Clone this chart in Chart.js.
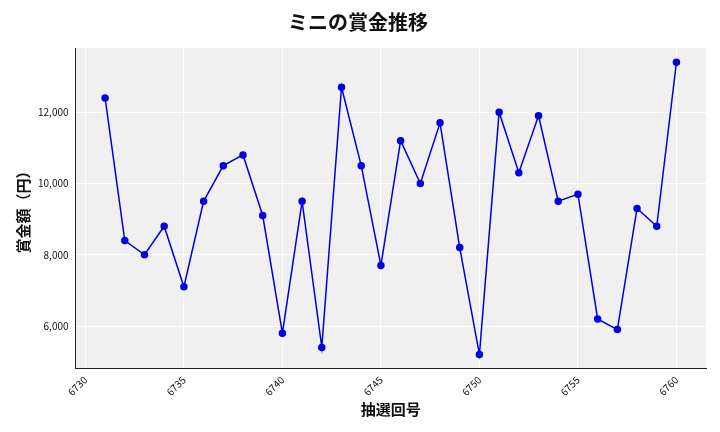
<!DOCTYPE html>
<html><head><meta charset="utf-8">
<script src="https://cdn.jsdelivr.net/npm/chart.js@4"></script>
<style>body{margin:0;background:#fff}#wrap{width:720px;height:432px}</style>
</head><body><div id="wrap"><canvas id="c"></canvas></div>
<script>
const draws = [6731,6732,6733,6734,6735,6736,6737,6738,6739,6740,6741,6742,6743,6744,6745,6746,6747,6748,6749,6750,6751,6752,6753,6754,6755,6756,6757,6758,6759,6760];
const prizes = [12400,8400,8000,8800,7100,9500,10500,10800,9100,5800,9500,5400,12700,10500,7700,11200,10000,11700,8200,5200,12000,10300,11900,9500,9700,6200,5900,9300,8800,13400];

const plotBg = {
  id: 'plotBg',
  beforeDraw(chart) {
    const {ctx, chartArea: a} = chart;
    ctx.save();
    ctx.fillStyle = '#f0f0f0';
    ctx.fillRect(a.left, a.top, a.right - a.left, a.bottom - a.top);
    ctx.restore();
  }
};

const font = "'Noto Sans CJK JP', sans-serif";
new Chart(document.getElementById('c'), {
  type: 'line',
  data: {
    datasets: [{
      data: draws.map((d, i) => ({x: d, y: prizes[i]})),
      borderColor: '#0000dd',
      backgroundColor: '#0000ee',
      borderWidth: 1.5,
      pointRadius: 3,
      tension: 0
    }]
  },
  options: {
    responsive: true, maintainAspectRatio: false, animation: false,
    layout: {padding: {right: 14, left: 10, top: 6, bottom: 10}},
    plugins: {
      legend: {display: false},
      title: {display: true, text: 'ミニの賞金推移', font: {family: font, size: 20, weight: 'bold'}, color: '#111', padding: {top: 4, bottom: 14}}
    },
    scales: {
      x: {
        type: 'linear', min: 6729.5, max: 6761.5,
        afterBuildTicks: s => { s.ticks = [6730,6735,6740,6745,6750,6755,6760].map(v => ({value: v})); },
        ticks: {maxRotation: 45, minRotation: 45, padding: 0, font: {family: font, size: 10}, color: '#111', callback: v => String(v)},
        grid: {color: '#ffffff', lineWidth: 1, tickLength: 5},
        border: {color: '#222'},
        title: {display: true, text: '抽選回号', font: {family: font, size: 15, weight: 'bold'}, color: '#111', padding: {top: 2}}
      },
      y: {
        min: 4800, max: 13800,
        afterBuildTicks: s => { s.ticks = [6000,8000,10000,12000].map(v => ({value: v})); },
        ticks: {padding: 2, font: {family: font, size: 10}, color: '#111', callback: v => v.toLocaleString('en-US')},
        grid: {color: '#ffffff', lineWidth: 1, tickLength: 5},
        border: {color: '#222'},
        title: {display: true, text: '賞金額（円）', font: {family: font, size: 15, weight: 'bold'}, color: '#111'}
      }
    }
  },
  plugins: [plotBg]
});
</script></body></html>
